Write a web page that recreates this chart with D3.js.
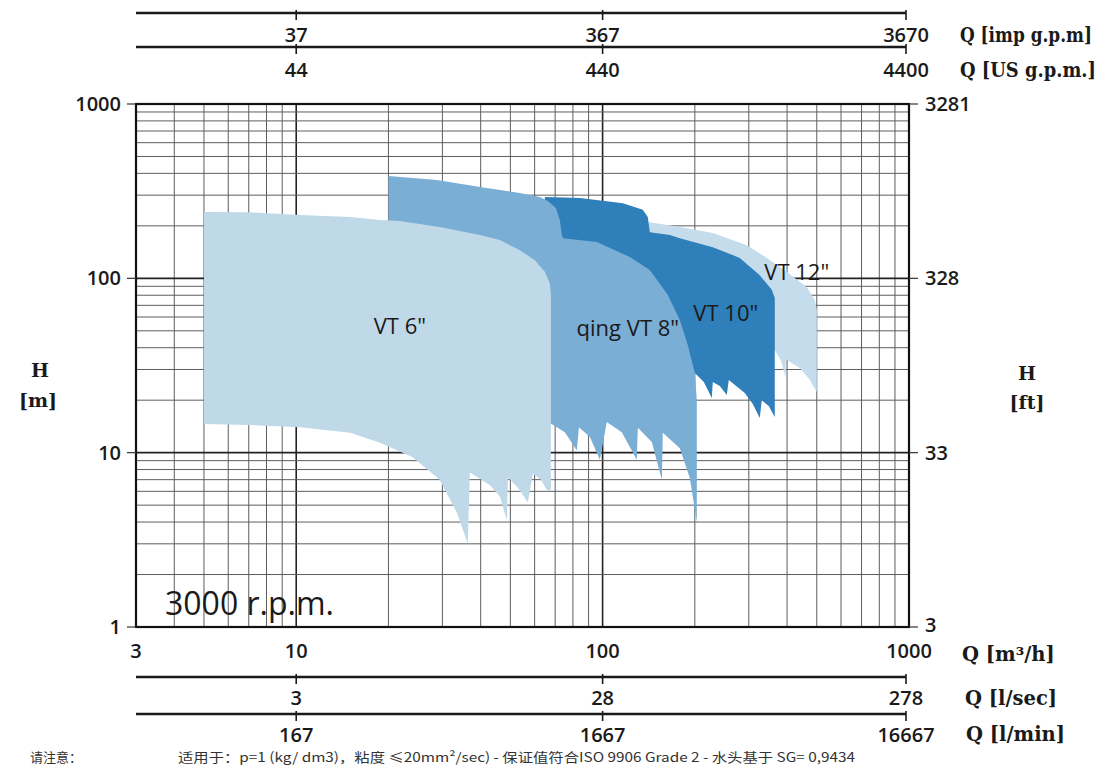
<!DOCTYPE html>
<html><head><meta charset="utf-8">
<script src="https://cdn.jsdelivr.net/npm/d3@7"></script>
<style>body{margin:0;background:#fff}svg{display:block}</style>
</head><body>
<svg id="c" width="1109" height="768"></svg>
<script>
// ---------- data ----------
const qDomain = [3, 1000];            // m3/h
const hDomain = [1, 1000];            // m
const xTickValues = [3, 10, 100, 1000];
const xTickLabels = ["3", "10", "100", "1000"];
const yTickValues = [1, 10, 100, 1000];
const yTickLabels = ["1", "10", "100", "1000"];
const ftTickLabels = ["3", "33", "328", "3281"];
const altTickValues = [10, 100, 1000];
const impLabels = ["37", "367", "3670"];
const usLabels = ["44", "440", "4400"];
const lsecLabels = ["3", "28", "278"];
const lminLabels = ["167", "1667", "16667"];

const seriesNames = ["VT 12\"", "VT 10\"", "qing VT 8\"", "VT 6\""];
const seriesColors = ["#c4dcec", "#2f7fba", "#7aaed4", "#c0d9e8"];
// envelopes as [Q m3/h, H m]
const vt12 = [[98,222],[142.6,210],[178.6,197],[228.9,182],[295.5,155],[343.4,131],[399.1,109],[463.8,89],[492.5,75],[500,66],
  [500,22.3],[474.5,26.1],[440.1,30.6],[396.1,34.4],[396.1,26.8],[381.5,34.0],[364.7,38.8],[98,38.8]];
const vt10 = [[64.8,293],[84.3,289],[116.4,270],[135.3,247],[140.4,225],[142.6,184],[165.8,177],[178.6,170],[228.9,151],[280.4,131],[325.8,104],[356.6,86],[364.7,77],
  [364.7,16.0],[348.6,18.5],[330.7,20.0],[325.8,15.8],[309.2,19.0],[291.1,22.0],[258.1,26.1],[254.3,21.4],[241.3,24.1],[228.9,25.4],[227.2,20.6],[214,25.4],[200,28.6],[64.8,28.6]];
const vt8 = [[20,386],[28.8,366],[39.8,334],[53.7,309],[62.4,293],[66.3,278],[70.4,253],[72.5,216],[73.6,177],[74.2,170],[95.8,161.5],[122.7,132.6],[142.6,111.6],[163.3,80.2],[178.6,57.6],[189.7,41.4],[200,28.6],[203,20.0],
  [203,4.0],[192.6,7.15],[178.6,10.6],[157.2,13.0],[156.1,7.0],[144.7,11.5],[130.3,13.9],[129.3,9.1],[115.5,13.1],[103.2,15.0],[98,9.1],[90.9,12.3],[83.7,14.0],[82.4,10.3],[75.3,13.1],[67.3,14.8],[20,20]];
const vt6 = [[5.0,240],[7.06,239],[10.3,231],[15.0,225],[18.8,216],[21.8,213],[29.4,197],[39.8,177],[46.2,166],[53.7,145],[60.1,127],[64.8,109],[67.3,93],[67.8,80],
  [67.8,6.1],[65.8,6.1],[62.9,7.0],[59.2,7.6],[57.0,5.2],[52.9,6.3],[49.1,7.2],[48.7,4.1],[46.2,5.6],[42.9,6.5],[36.9,7.7],[36.3,3.0],[33.5,4.5],[29.4,7.0],[24.0,9.4],[18.8,11.4],[15.0,13.0],[10.3,14.0],[7.06,14.4],[5.0,14.6]];
const seriesShapes = [vt12, vt10, vt8, vt6];
const labelPos = [[430.3,97.8],[252.4,56.9],[120.9,46.7],[21.8,47.9]]; // [Q,H] of label anchor

// ---------- drawing ----------
const svg = d3.select("#c");
const x = d3.scaleLog().domain(qDomain).range([136, 909]);
const y = d3.scaleLog().domain(hDomain).range([627, 104]);
const X0 = x(qDomain[0]), X1 = x(qDomain[1]), Y0 = y(hDomain[0]), Y1 = y(hDomain[1]);

// grid
const minorX = [], minorY = [];
[1,10,100].forEach(d => { for (let k = 1; k < 10; k++) { const v = k*d; if (v >= 3 && v <= 1000) minorX.push(v); if (v>=1) minorY.push(v);} });
minorX.push(1000); minorY.push(1000);
const g = svg.append("g");
g.selectAll(".vx").data(minorX).join("line")
  .attr("x1", d => x(d)).attr("x2", d => x(d)).attr("y1", Y1).attr("y2", Y0)
  .attr("stroke", d => [10,100].includes(d) ? "#222" : "#5e5e5e")
  .attr("stroke-width", d => [10,100].includes(d) ? 1.6 : 1);
g.selectAll(".hy").data(minorY).join("line")
  .attr("x1", X0).attr("x2", X1).attr("y1", d => y(d)).attr("y2", d => y(d))
  .attr("stroke", d => [10,100].includes(d) ? "#222" : "#5e5e5e")
  .attr("stroke-width", d => [10,100].includes(d) ? 1.6 : 1);

// envelopes
const line = d3.line().x(d => x(d[0])).y(d => y(d[1])).curve(d3.curveLinearClosed);
svg.append("g").selectAll("path").data(seriesShapes).join("path")
  .attr("d", d => line(d)).attr("fill", (d,i) => seriesColors[i]).attr("stroke", "none");

// frame
svg.append("rect").attr("x", X0).attr("y", Y1).attr("width", X1-X0).attr("height", Y0-Y1)
  .attr("fill", "none").attr("stroke", "#111").attr("stroke-width", 2.2);

// series labels
svg.append("g").selectAll("text").data(seriesNames).join("text")
  .attr("x", (d,i) => x(labelPos[i][0])).attr("y", (d,i) => y(labelPos[i][1]))
  .attr("text-anchor", "middle").attr("font-family", "Open Sans").attr("font-size", 22)
  .attr("font-weight", 500).attr("fill", "#1a1a1a").text(d => d);

const sans = "Open Sans";
const serif = "DejaVu Serif";
// left axis
const la = svg.append("g");
la.selectAll("line").data(yTickValues).join("line")
  .attr("x1", X0-9).attr("x2", X0).attr("y1", d => y(d)).attr("y2", d => y(d)).attr("stroke", "#333").attr("stroke-width", 1.2);
la.selectAll("text").data(yTickValues).join("text")
  .attr("x", X0-15).attr("y", d => y(d)+7).attr("text-anchor", "end")
  .attr("font-family", sans).attr("font-size", 20).attr("font-weight", 600).attr("fill", "#1a1a1a")
  .text((d,i) => yTickLabels[i]);
// right axis (ft)
const ra = svg.append("g");
ra.selectAll("line").data(yTickValues).join("line")
  .attr("x1", X1).attr("x2", X1+9).attr("y1", d => y(d)).attr("y2", d => y(d)).attr("stroke", "#333").attr("stroke-width", 1.2);
ra.selectAll("text").data(yTickValues).join("text")
  .attr("x", X1+16).attr("y", d => y(d) + (d === 1 ? 5 : 7)).attr("text-anchor", "start")
  .attr("font-family", sans).attr("font-size", 20).attr("font-weight", 600).attr("fill", "#1a1a1a")
  .text((d,i) => ftTickLabels[i]);
// bottom axis m3/h
svg.append("g").selectAll("text").data(xTickValues).join("text")
  .attr("x", d => x(d)).attr("y", 658).attr("text-anchor", "middle")
  .attr("font-family", sans).attr("font-size", 20).attr("font-weight", 600).attr("fill", "#1a1a1a")
  .text((d,i) => xTickLabels[i]);

// auxiliary scale bars
function bar(yLine, labels, yLab) {
  const gg = svg.append("g");
  const xe = x(1000) - 3;
  gg.append("line").attr("x1", X0).attr("x2", xe).attr("y1", yLine).attr("y2", yLine)
    .attr("stroke", "#1a1a1a").attr("stroke-width", 2.6);
  gg.selectAll("line.t").data(altTickValues).join("line").attr("class", "t")
    .attr("x1", d => Math.min(x(d), xe)).attr("x2", d => Math.min(x(d), xe))
    .attr("y1", yLine-3).attr("y2", yLine+7).attr("stroke", "#1a1a1a").attr("stroke-width", 1.6);
  gg.selectAll("text").data(altTickValues).join("text")
    .attr("x", d => Math.min(x(d), xe)).attr("y", yLab).attr("text-anchor", "middle")
    .attr("font-family", sans).attr("font-size", 20).attr("font-weight", 600).attr("fill", "#1a1a1a")
    .text((d,i) => labels[i]);
}
bar(13, impLabels, 42);
bar(47, usLabels, 77);
bar(677, lsecLabels, 705);
bar(714, lminLabels, 742);

// unit titles
const units = [["Q [imp g.p.m]", 960, 42, 132], ["Q [US g.p.m.]", 960, 77, 136], ["Q [m³/h]", 962, 661, 0], ["Q [l/sec]", 965, 705, 0], ["Q [l/min]", 966, 741, 0]];
svg.append("g").selectAll("text").data(units).join("text")
  .attr("x", d => d[1]).attr("y", d => d[2]).attr("font-family", serif).attr("font-weight", "bold")
  .attr("font-size", 19.5).attr("fill", "#1a1a1a")
  .each(function(d){ if (d[3]) d3.select(this).attr("textLength", d[3]).attr("lengthAdjust", "spacingAndGlyphs"); })
  .text(d => d[0]);
const hl = [["H", 40, 377], ["[m]", 38, 407], ["H", 1027, 380], ["[ft]", 1027, 409]];
svg.append("g").selectAll("text").data(hl).join("text")
  .attr("x", d => d[1]).attr("y", d => d[2]).attr("text-anchor", "middle").attr("font-family", serif).attr("font-weight", "bold")
  .attr("font-size", 19).attr("fill", "#1a1a1a").text(d => d[0]);

// speed
svg.append("text").attr("x", 165).attr("y", 615).attr("font-family", sans).attr("font-size", 32)
  .attr("fill", "#1a1a1a").text("3000 r.p.m.");

// footnote
svg.append("text").attr("x", 30).attr("y", 762).attr("font-family", "Noto Sans CJK SC").attr("font-size", 13)
  .attr("fill", "#333").text("请注意：");
svg.append("text").attr("x", 178).attr("y", 762).attr("font-family", "Noto Sans CJK SC").attr("font-size", 13)
  .attr("fill", "#333").attr("textLength", 677).attr("lengthAdjust", "spacingAndGlyphs")
  .text("适用于：p=1 (kg/ dm3)，粘度  ≤20mm²/sec) - 保证值符合ISO 9906 Grade 2 - 水头基于 SG= 0,9434");
</script>
</body></html>
